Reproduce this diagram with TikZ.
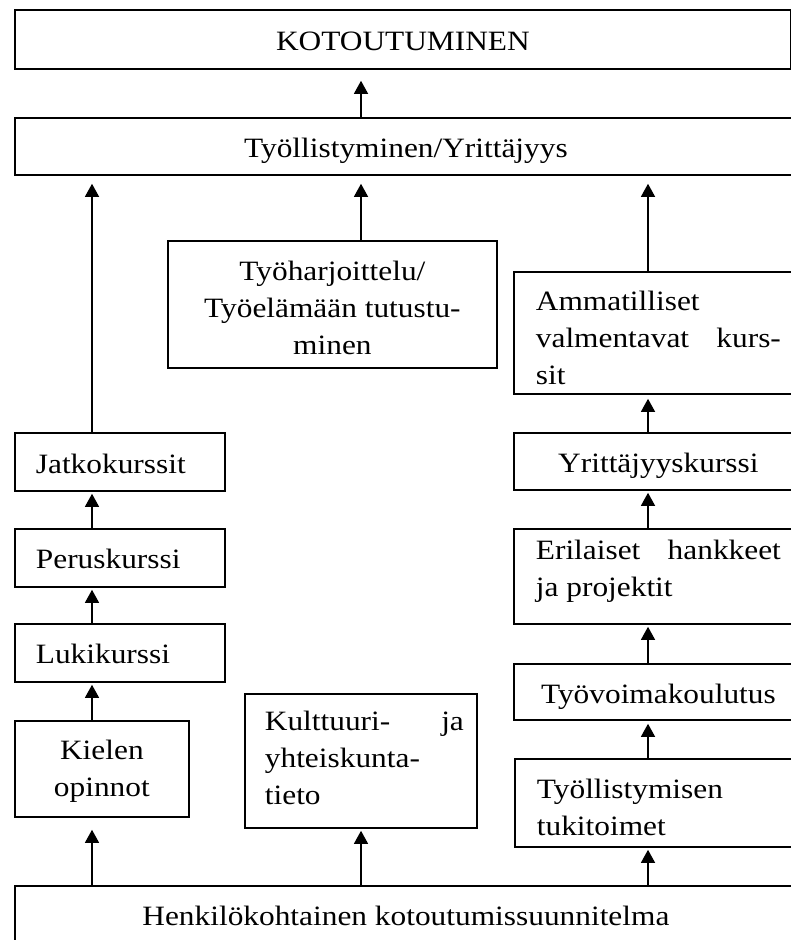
\documentclass[tikz,border=0pt]{standalone}
\usepackage{fontspec}
\setmainfont{Liberation Serif}[FakeStretch=1.12]
\usetikzlibrary{arrows.meta}
\newcommand\btc[6]{\parbox[c][#2pt][t]{#1pt}{\leftskip=#4pt plus 1fil\relax\rightskip=#5pt plus 1fil\relax\parfillskip=0pt\relax\let\\\par\vspace*{\dimexpr#3pt-25.9pt\relax}\strut#6}}
\newcommand\btl[6]{\parbox[c][#2pt][t]{#1pt}{\leftskip=#4pt\relax\rightskip=#5pt plus 1fil\relax\parfillskip=0pt\relax\let\\\par\vspace*{\dimexpr#3pt-25.9pt\relax}\strut#6}}
\begin{document}
\begin{tikzpicture}[x=1pt,y=-1pt,
  bx/.style={draw=black, line width=1.8pt, inner sep=0pt, anchor=north west, font=\fontsize{28pt}{37pt}\selectfont},
  arr/.style={draw=black, line width=1.3pt, -{Triangle[length=13pt,width=14pt]}}]
\useasboundingbox (0,0) rectangle (791,940);
\node[bx] (k) at (14,9) {\btc{776}{59}{41}{0}{0}{KOTOUTUMINEN}};
\node[bx] (t) at (14,117) {\btc{782}{57}{40}{0}{0}{Työllistyminen/Yrittäjyys}};
\node[bx] (tyoh) at (167,240) {\btc{329}{127}{40}{0}{0}{Työharjoittelu/\\Työelämään tutustu-\\minen}};
\node[bx] (amm) at (513,271) {\btl{283}{122}{39}{22}{16}{Ammatilliset\\valmentavat\hfill kurs-\\sit}};
\node[bx] (jatk) at (14,432) {\btl{210}{58}{41}{21}{0}{Jatkokurssit}};
\node[bx] (peru) at (14,528) {\btl{210}{58}{40}{21}{0}{Peruskurssi}};
\node[bx] (luki) at (14,623) {\btl{210}{58}{40}{21}{0}{Lukikurssi}};
\node[bx] (kiel) at (14,720) {\btc{174}{96}{39}{0}{0}{Kielen\\opinnot}};
\node[bx] (kult) at (244,693) {\btl{232}{134}{37}{20}{13}{Kulttuuri-\hfill ja\\yhteiskunta-\\tieto}};
\node[bx] (yrit) at (513,432) {\btc{283}{57}{40}{22}{16}{Yrittäjyyskurssi}};
\node[bx] (eril) at (513,528) {\btl{283}{95}{31}{22}{16}{Erilaiset\hfill hankkeet\\ja projektit}};
\node[bx] (tyov) at (513,663) {\btc{283}{56}{40}{22}{16}{Työvoimakoulutus}};
\node[bx] (tyol) at (514,758) {\btl{282}{88}{40}{22}{16}{Työllistymisen\\tukitoimet}};
\node[bx] (henk) at (14,885) {\btc{782}{60}{40}{0}{0}{Henkilökohtainen kotoutumissuunnitelma}};
\coordinate (cL) at (92,0);
\coordinate (cM) at (361,0);
\coordinate (cR) at (648,0);
\draw[arr, shorten >=11pt] (t.north -| cM) -- (k.south -| cM);
\draw[arr, shorten >=8pt] (jatk.north -| cL) -- (t.south -| cL);
\draw[arr, shorten >=8pt] (tyoh.north -| cM) -- (t.south -| cM);
\draw[arr, shorten >=8pt] (amm.north -| cR) -- (t.south -| cR);
\draw[arr, shorten >=2pt] (peru.north -| cL) -- (jatk.south -| cL);
\draw[arr, shorten >=2pt] (luki.north -| cL) -- (peru.south -| cL);
\draw[arr, shorten >=2pt] (kiel.north -| cL) -- (luki.south -| cL);
\draw[arr, shorten >=4pt] (yrit.north -| cR) -- (amm.south -| cR);
\draw[arr, shorten >=2pt] (eril.north -| cR) -- (yrit.south -| cR);
\draw[arr, shorten >=2pt] (tyov.north -| cR) -- (eril.south -| cR);
\draw[arr, shorten >=3pt] (tyol.north -| cR) -- (tyov.south -| cR);
\draw[arr, shorten >=12pt] (henk.north -| cL) -- (kiel.south -| cL);
\draw[arr, shorten >=2pt] (henk.north -| cM) -- (kult.south -| cM);
\draw[arr, shorten >=2pt] (henk.north -| cR) -- (tyol.south -| cR);
\end{tikzpicture}
\end{document}
